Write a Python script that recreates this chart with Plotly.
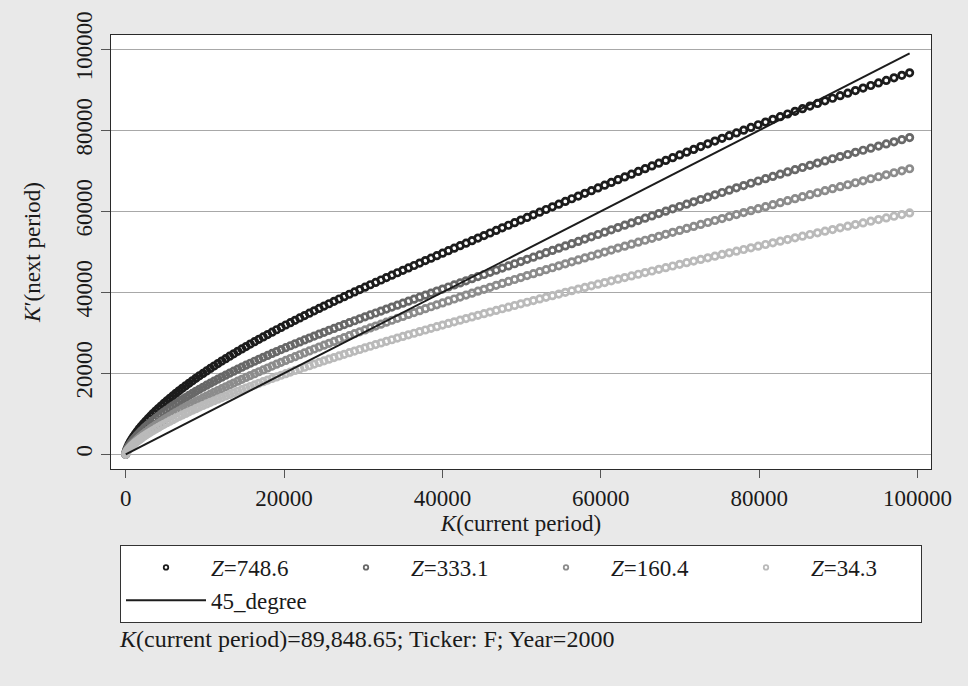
import plotly.graph_objects as go

# K (current period) grid
K = [0, 54, 152, 280, 431, 603, 792, 998, 1219, 1455, 1704, 1966, 2240, 2526, 2823, 3131, 3449, 3777, 4115, 4463,
     4820, 5186, 5561, 5944, 6336, 6736, 7144, 7561, 7984, 8416, 8855, 9301, 9755, 10216, 10684, 11158, 11640, 12128,
     12624, 13125, 13633, 14148, 14668, 15195, 15728, 16268, 16813, 17364, 17921, 18484, 19053, 19627, 20208, 20794,
     21385, 21981, 22584, 23191, 23804, 24422, 25046, 25674, 26309, 26948, 27592, 28241, 28895, 29554, 30218, 30888,
     31561, 32240, 32924, 33612, 34305, 35003, 35705, 36412, 37124, 37840, 38560, 39286, 40015, 40749, 41489, 42231,
     42979, 43731, 44487, 45248, 46012, 46781, 47555, 48332, 49114, 49899, 50689, 51483, 52281, 53084, 53890, 54701,
     55515, 56333, 57155, 57982, 58812, 59647, 60485, 61326, 62172, 63022, 63876, 64733, 65594, 66459, 67328, 68200,
     69077, 69957, 70840, 71728, 72619, 73513, 74411, 75313, 76219, 77128, 78041, 78957, 79877, 80801, 81728, 82659,
     83592, 84530, 85471, 86415, 87363, 88314, 89269, 90227, 91189, 92154, 93122, 94094, 95068, 96048, 97028, 98016,
     99000]

# K' (next period) for each productivity level Z
Z748 = [0, 628, 1256, 1884, 2512, 3140, 3768, 4396, 5024, 5652, 6280, 6908, 7536, 8164, 8792, 9420, 10048, 10675,
        11302, 11928, 12553, 13178, 13801, 14424, 15046, 15666, 16286, 16904, 17521, 18137, 18752, 19365, 19976,
        20587, 21195, 21803, 22409, 23013, 23616, 24218, 24818, 25417, 26014, 26610, 27205, 27798, 28391, 28981,
        29571, 30160, 30748, 31335, 31922, 32507, 33092, 33677, 34260, 34844, 35427, 36010, 36594, 37176, 37760,
        38344, 38928, 39512, 40098, 40684, 41272, 41860, 42449, 43041, 43633, 44227, 44822, 45419, 46018, 46619,
        47222, 47826, 48433, 49043, 49655, 50269, 50885, 51504, 52125, 52749, 53376, 54006, 54638, 55272, 55910,
        56550, 57193, 57839, 58487, 59138, 59792, 60447, 61105, 61766, 62429, 63094, 63760, 64429, 65100, 65772,
        66446, 67121, 67798, 68476, 69156, 69836, 70517, 71198, 71880, 72562, 73244, 73926, 74608, 75289, 75970,
        76650, 77328, 78006, 78682, 79357, 80030, 80701, 81369, 82036, 82700, 83362, 84021, 84677, 85329, 85979,
        86625, 87268, 87907, 88543, 89175, 89804, 90432, 91060, 91688, 92316, 92944, 93572, 94200]

Z333 = [0, 521, 1043, 1564, 2085, 2607, 3128, 3649, 4171, 4692, 5213, 5735, 6256, 6777, 7299, 7820, 8341, 8862,
        9382, 9901, 10420, 10937, 11453, 11970, 12484, 12997, 13510, 14021, 14530, 15039, 15546, 16051, 16556,
        17058, 17559, 18059, 18557, 19053, 19548, 20041, 20533, 21024, 21512, 21999, 22486, 22970, 23453, 23936,
        24417, 24896, 25375, 25853, 26330, 26807, 27282, 27757, 28232, 28706, 29180, 29654, 30127, 30601, 31075,
        31550, 32024, 32500, 32976, 33453, 33932, 34411, 34891, 35374, 35857, 36342, 36829, 37317, 37807, 38300,
        38795, 39290, 39790, 40292, 40796, 41303, 41812, 42323, 42838, 43355, 43874, 44398, 44923, 45451, 45984,
        46517, 47054, 47595, 48138, 48683, 49232, 49783, 50335, 50892, 51450, 52010, 52573, 53137, 53703, 54272,
        54842, 55414, 55987, 56562, 57137, 57714, 58291, 58869, 59448, 60026, 60605, 61184, 61762, 62340, 62918,
        63493, 64068, 64643, 65215, 65786, 66355, 66922, 67486, 68049, 68608, 69165, 69719, 70270, 70817, 71362,
        71903, 72440, 72974, 73503, 74028, 74551, 75072, 75593, 76115, 76636, 77157, 77679, 78200]

Z160 = [0, 366, 758, 1160, 1568, 1983, 2401, 2822, 3247, 3675, 4105, 4536, 4970, 5405, 5844, 6284, 6725, 7166,
        7609, 8054, 8500, 8946, 9394, 9842, 10291, 10743, 11196, 11648, 12102, 12554, 13011, 13466, 13923, 14378,
        14838, 15295, 15754, 16213, 16674, 17133, 17596, 18056, 18522, 18985, 19448, 19913, 20378, 20845, 21312,
        21776, 22245, 22710, 23176, 23649, 24116, 24585, 25054, 25525, 25996, 26467, 26940, 27413, 27881, 28350,
        28826, 29296, 29773, 30244, 30716, 31195, 31668, 32141, 32623, 33098, 33574, 34050, 34527, 34997, 35474,
        35953, 36432, 36912, 37384, 37865, 38346, 38828, 39302, 39785, 40269, 40744, 41229, 41714, 42191, 42678,
        43155, 43643, 44122, 44610, 45090, 45580, 46060, 46541, 47022, 47514, 47996, 48479, 48961, 49445, 49939,
        50423, 50908, 51393, 51878, 52364, 52850, 53337, 53824, 54311, 54799, 55287, 55776, 56265, 56754, 57232,
        57722, 58213, 58703, 59195, 59674, 60166, 60658, 61151, 61644, 62124, 62618, 63113, 63607, 64102, 64584,
        65080, 65576, 66073, 66555, 67053, 67536, 68034, 68532, 69017, 69516, 70000, 70500]

Z34 = [0, 333, 683, 1040, 1400, 1764, 2130, 2498, 2869, 3241, 3614, 3989, 4364, 4741, 5120, 5499, 5878, 6259,
       6640, 7022, 7406, 7789, 8173, 8558, 8945, 9330, 9716, 10103, 10492, 10878, 11268, 11656, 12048, 12438,
       12825, 13216, 13608, 13997, 14391, 14781, 15176, 15568, 15960, 16353, 16746, 17141, 17535, 17931, 18326,
       18718, 19115, 19513, 19906, 20304, 20698, 21098, 21493, 21894, 22289, 22691, 23088, 23485, 23882, 24280,
       24685, 25084, 25483, 25882, 26282, 26682, 27083, 27484, 27886, 28288, 28690, 29093, 29488, 29891, 30295,
       30692, 31096, 31501, 31898, 32304, 32710, 33108, 33514, 33913, 34320, 34719, 35127, 35526, 35935, 36335,
       36745, 37145, 37546, 37956, 38357, 38768, 39170, 39572, 39984, 40386, 40789, 41202, 41605, 42008, 42412,
       42826, 43230, 43634, 44038, 44454, 44859, 45264, 45669, 46075, 46492, 46898, 47304, 47710, 48117, 48524,
       48930, 49350, 49757, 50165, 50573, 50981, 51389, 51797, 52206, 52615, 53024, 53447, 53856, 54266, 54676,
       55086, 55496, 55907, 56317, 56728, 57139, 57551, 57955, 58359, 58771, 59183, 59595]

for s in (Z748, Z333, Z160, Z34):
    assert len(s) == len(K), len(s)

SERIES_NAMES = ["<i>Z</i>=748.6", "<i>Z</i>=333.1", "<i>Z</i>=160.4", "<i>Z</i>=34.3"]
SERIES_VALUES = [Z748, Z333, Z160, Z34]
COLORS = ["#1c1c1c", "#686868", "#8c8c8c", "#bababa"]

X_TICKS = [0, 20000, 40000, 60000, 80000, 100000]
Y_TICKS = [0, 20000, 40000, 60000, 80000, 100000]
NOTE = "<i>K</i>(current period)=89,848.65; Ticker: F; Year=2000"

FONT = "Liberation Serif"

fig = go.Figure()
# data markers
for name, vals, col in zip(SERIES_NAMES, SERIES_VALUES, COLORS):
    fig.add_trace(go.Scatter(
        x=K, y=vals, mode="markers", name=name, showlegend=False,
        marker=dict(symbol="circle-open", size=6.5, color=col, line=dict(width=2.7, color=col)),
    ))
# legend keys (smaller symbols, as in the original legend)
for name, col in zip(SERIES_NAMES, COLORS):
    fig.add_trace(go.Scatter(
        x=[None], y=[None], mode="markers", name=name, showlegend=True,
        marker=dict(symbol="circle-open", size=4.5, color=col, line=dict(width=1.8, color=col)),
    ))
fig.add_trace(go.Scatter(
    x=K, y=K, mode="lines", name="45_degree",
    line=dict(color="#1c1c1c", width=2),
))

fig.update_layout(
    width=968, height=686,
    paper_bgcolor="#E9E9E9", plot_bgcolor="white",
    margin=dict(l=111, r=37, t=35, b=217),
    font=dict(family=FONT, size=23, color="#1a1a1a"),
    showlegend=True,
    xaxis=dict(
        range=[-1860, 101700], tickvals=X_TICKS, ticktext=[str(v) for v in X_TICKS],
        showgrid=False, zeroline=False, showline=True, linecolor="#2a2a2a", linewidth=1, mirror=True,
        ticks="outside", ticklen=8, tickcolor="#555", tickwidth=1,
        tickfont=dict(family=FONT, size=23), automargin=False,
        title=dict(text="<i>K</i>(current period)", font=dict(family=FONT, size=23), standoff=3),
    ),
    yaxis=dict(
        range=[-3630, 103530], tickvals=Y_TICKS, ticktext=[str(v) for v in Y_TICKS], tickangle=-90,
        showgrid=True, gridcolor="#A8A8A8", gridwidth=1, zeroline=False,
        showline=True, linecolor="#2a2a2a", linewidth=1, mirror=True,
        ticks="outside", ticklen=9, tickcolor="#555", tickwidth=1,
        tickfont=dict(family=FONT, size=23), automargin=False,
        title=dict(text="<i>K</i>′(next period)", font=dict(family=FONT, size=23), standoff=24),
    ),
    legend=dict(
        orientation="h", x=0.5, xanchor="center", y=-0.175, yanchor="top",
        bgcolor="white", bordercolor="#333", borderwidth=1,
        itemwidth=80, entrywidth=105, entrywidthmode="pixels",
        font=dict(family=FONT, size=23), traceorder="normal",
    ),
    annotations=[dict(
        text=NOTE, xref="paper", yref="paper", x=0.007, y=-0.392,
        xanchor="left", yanchor="middle", showarrow=False,
        font=dict(family=FONT, size=24, color="#1a1a1a"),
    )],
)

fig.write_html(
    "out.html",
    config={"displayModeBar": False},
    post_script="document.body.style.margin='0';document.body.style.overflow='hidden';",
)
